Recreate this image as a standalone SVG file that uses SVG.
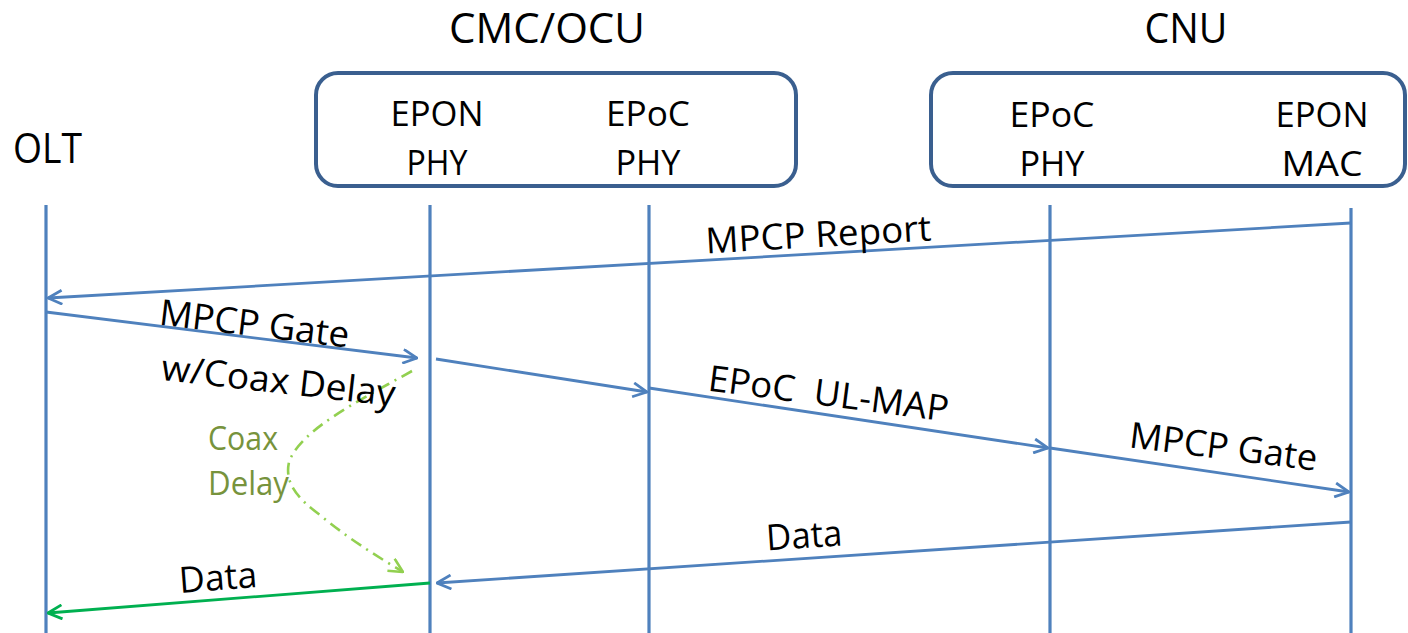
<svg xmlns="http://www.w3.org/2000/svg" width="1408" height="633" viewBox="0 0 1408 633">
<style>
text{font-family:"Open Sans","Noto Sans","Liberation Sans",sans-serif;fill:#000}
.t{font-size:35px;text-anchor:middle}
.title{font-size:42px;text-anchor:middle}
.lbl{font-size:36px;text-anchor:middle}
.coax{font-size:32px;fill:#77933c}
.box{fill:none;stroke:#3a5f8f;stroke-width:4}
.life{stroke:#4f81bd;stroke-width:3.2;fill:none}
.msg{stroke:#4f81bd;stroke-width:2.8;fill:none}
.green{stroke:#00b050;stroke-width:2.8;fill:none}
.curve{stroke:#92d050;stroke-width:2.6;fill:none;stroke-dasharray:12 6 2 6}
</style>
<defs>
<marker id="ab" viewBox="0 0 16 16" refX="15" refY="8" markerWidth="16" markerHeight="16" markerUnits="userSpaceOnUse" orient="auto">
<path d="M1,1 L15,8 L1,15" fill="none" stroke="#4f81bd" stroke-width="2.8"/>
</marker>
<marker id="ag" viewBox="0 0 16 16" refX="15" refY="8" markerWidth="16" markerHeight="16" markerUnits="userSpaceOnUse" orient="auto">
<path d="M1,1 L15,8 L1,15" fill="none" stroke="#00b050" stroke-width="2.8"/>
</marker>
<marker id="al" viewBox="0 0 16 16" refX="15" refY="8" markerWidth="16" markerHeight="16" markerUnits="userSpaceOnUse" orient="auto">
<path d="M1,1 L15,8 L1,15" fill="none" stroke="#92d050" stroke-width="2.6"/>
</marker>
</defs>
<rect width="1408" height="633" fill="#fff"/>

<g id="olt">
<text x="13" y="163" style="font-size:42px" textLength="69" lengthAdjust="spacingAndGlyphs">OLT</text>
<line class="life" x1="46" y1="205" x2="46" y2="633"/>
</g>

<g id="cmc-ocu">
<text class="title" x="547" y="43" textLength="196" lengthAdjust="spacingAndGlyphs">CMC/OCU</text>
<rect class="box" x="316" y="73" width="480" height="113" rx="22"/>
<text class="t" x="437" y="126" textLength="93" lengthAdjust="spacingAndGlyphs">EPON</text>
<text class="t" x="437" y="175" textLength="61" lengthAdjust="spacingAndGlyphs">PHY</text>
<text class="t" x="648" y="126" textLength="84" lengthAdjust="spacingAndGlyphs">EPoC</text>
<text class="t" x="648" y="175" textLength="65" lengthAdjust="spacingAndGlyphs">PHY</text>
</g>
<g id="epon-phy"><line class="life" x1="430" y1="205" x2="430" y2="633"/></g>
<g id="epoc-phy"><line class="life" x1="649" y1="205" x2="649" y2="633"/></g>

<g id="cnu">
<text class="title" x="1186" y="43" textLength="83" lengthAdjust="spacingAndGlyphs">CNU</text>
<rect class="box" x="931" y="73" width="474" height="113" rx="22"/>
<text class="t" x="1052" y="127" textLength="85" lengthAdjust="spacingAndGlyphs">EPoC</text>
<text class="t" x="1052" y="176" textLength="65" lengthAdjust="spacingAndGlyphs">PHY</text>
<text class="t" x="1322" y="127" textLength="93" lengthAdjust="spacingAndGlyphs">EPON</text>
<text class="t" x="1322" y="176" textLength="81" lengthAdjust="spacingAndGlyphs">MAC</text>
</g>
<g id="cnu-epoc-phy"><line class="life" x1="1050" y1="205" x2="1050" y2="633"/></g>
<g id="cnu-epon-mac"><line class="life" x1="1351" y1="208" x2="1351" y2="633"/></g>

<g id="connectors">
<line class="msg" x1="1351" y1="223" x2="48" y2="298" marker-end="url(#ab)"/>
<line class="msg" x1="46" y1="312" x2="417" y2="358" marker-end="url(#ab)"/>
<line class="msg" x1="436" y1="359" x2="647" y2="392" marker-end="url(#ab)"/>
<line class="msg" x1="649" y1="388" x2="1048" y2="448" marker-end="url(#ab)"/>
<line class="msg" x1="1050" y1="448" x2="1349" y2="492" marker-end="url(#ab)"/>
<line class="msg" x1="1351" y1="522" x2="437" y2="583" marker-end="url(#ab)"/>
<line class="green" x1="430" y1="583" x2="48" y2="613" marker-end="url(#ag)"/>
<path class="curve" d="M412,371 C360,400 300,430 289,462 C284,485 300,500 320,515 C350,540 380,558 403,572" marker-end="url(#al)"/>
</g>

<g id="labels">
<text class="lbl" transform="rotate(-3.3 819 247)" x="819" y="247" textLength="226" lengthAdjust="spacingAndGlyphs">MPCP Report</text>
<text class="lbl" transform="rotate(6.9 253 336)" x="253" y="336" textLength="191" lengthAdjust="spacingAndGlyphs">MPCP Gate</text>
<text class="lbl" transform="rotate(6.5 277 393)" x="277" y="393" textLength="235" lengthAdjust="spacingAndGlyphs">w/Coax Delay</text>
<text class="lbl" transform="rotate(7.4 827 406)" x="827" y="406" textLength="242" lengthAdjust="spacingAndGlyphs" xml:space="preserve">EPoC  UL-MAP</text>
<text class="lbl" transform="rotate(7.1 1222 459)" x="1222" y="459" textLength="189" lengthAdjust="spacingAndGlyphs">MPCP Gate</text>
<text class="lbl" transform="rotate(-3.9 805 548)" x="805" y="548" textLength="76" lengthAdjust="spacingAndGlyphs">Data</text>
<text class="lbl" transform="rotate(-4.5 219 590)" x="219" y="590" textLength="78" lengthAdjust="spacingAndGlyphs">Data</text>
<text class="coax" x="208" y="450" textLength="70" lengthAdjust="spacingAndGlyphs">Coax</text>
<text class="coax" x="208" y="495" textLength="81" lengthAdjust="spacingAndGlyphs">Delay</text>
</g>
</svg>
